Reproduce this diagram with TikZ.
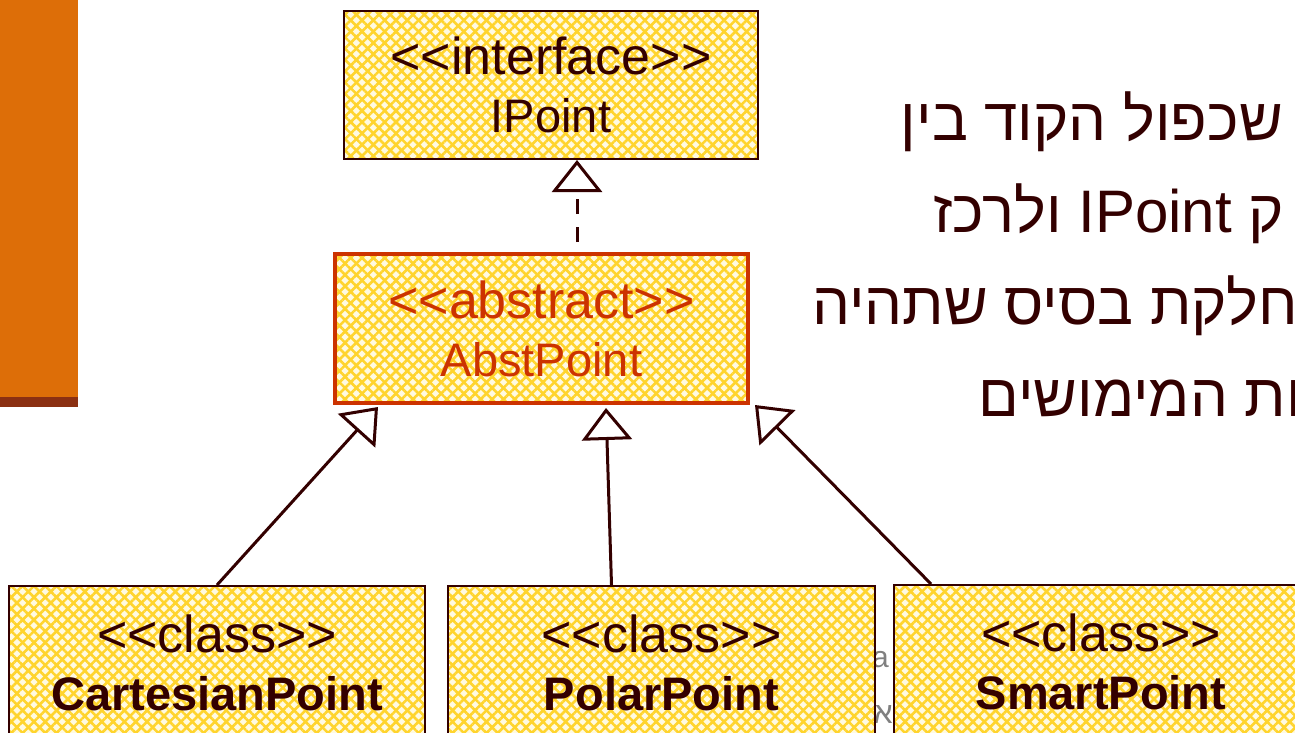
\documentclass[tikz,border=0pt]{standalone}
\usepackage{fontspec}
\setmainfont{Liberation Sans}
\newfontfamily\hebfont[Script=Hebrew]{Liberation Sans}
\TeXXeTstate=1
\usepackage{tikz}
\usetikzlibrary{arrows.meta,patterns.meta}
\definecolor{umlline}{RGB}{51,0,0}
\definecolor{abstred}{RGB}{204,51,0}
\definecolor{barorange}{RGB}{221,110,8}
\definecolor{bardark}{RGB}{139,48,18}
\definecolor{paleyellow}{RGB}{255,250,225}
\definecolor{hatchgold}{RGB}{255,212,45}
\definecolor{footgrey}{RGB}{128,128,128}
\newcommand{\umlname}[1]{{\fontsize{47}{58}\selectfont #1}}
\newcommand{\umlbold}[1]{{\bfseries\fontsize{47}{58}\selectfont #1}}
\newcommand{\stereo}[1]{<{}<#1>{}>}

\begin{document}
\begin{tikzpicture}[x=1pt,y=-1pt,
		hatched/.style={preaction={fill=paleyellow},
			preaction={pattern={Lines[angle=45,distance=8pt,line width=2.6pt]},pattern color=hatchgold},
			preaction={pattern={Lines[angle=-45,distance=8pt,line width=2.6pt]},pattern color=hatchgold}},
		umlbox/.style={rectangle,hatched,draw=umlline,line width=2pt,text=umlline,align=center,inner sep=0pt,font=\fontsize{52}{58}\selectfont},
		abstbox/.style={umlbox,draw=abstred,line width=4pt,text=abstred},
		inheritarrow/.style={draw=umlline,line width=3pt,-{Triangle[open,length=32pt,width=50pt]}},
		realizearrow/.style={inheritarrow,dash pattern=on 15pt off 13pt,dash phase=18pt},
		hebline/.style={anchor=base east,text=umlline,inner sep=0pt,font=\hebfont\fontsize{60}{60}\selectfont},
		footline/.style={anchor=base east,text=footgrey,inner sep=0pt,font=\hebfont\fontsize{30}{34}\selectfont}]
		\useasboundingbox (0,0) rectangle (1295,733);
		\fill[barorange] (0,0) rectangle (78,397);
		\fill[bardark] (0,397) rectangle (78,407);
		
		\node[footline] (foot1) at (889,667) {va};
		\node[footline] (foot2) at (893,723) {\beginR אב\endR};
		
		\node[hebline] (txt1) at (1283,140) {\beginR שכפול הקוד בין\endR};
		\node[hebline] (txt2) at (1284,232) {\beginR ק \beginL IPoint\endL{} ולרכז\endR};
		\node[hebline] (txt3) at (1298,324) {\beginR חלקת בסיס שתהיה\endR};
		\node[hebline] (txt4) at (1302,416) {\beginR ות המימושים\endR};
		
		\node[umlbox,minimum width=414pt,minimum height=148pt] (ipoint) at (551,85) {\stereo{interface}\\\umlname{IPoint}};
		\node[abstbox,minimum width=413pt,minimum height=149pt] (abst) at (541.5,328.5) {\stereo{abstract}\\\umlname{AbstPoint}};
		\node[umlbox,minimum width=416pt,minimum height=154pt] (cart) at (217,663) {\stereo{class}\\\umlbold{CartesianPoint}};
		\node[umlbox,minimum width=427pt,minimum height=154pt] (polar) at (661.5,663) {\stereo{class}\\\umlbold{PolarPoint}};
		\node[umlbox,minimum width=414pt,minimum height=154pt] (smart) at (1101,662) {\stereo{class}\\\umlbold{SmartPoint}};
		
		\draw[realizearrow] ([xshift=35.5pt]abst.north) -- ([xshift=26pt]ipoint.south);
		\draw[inheritarrow] (cart.north) -- ([xshift=45pt,yshift=-2pt]abst.south west);
		\draw[inheritarrow] ([xshift=-50pt]polar.north) -- ([xshift=64.5pt,yshift=-3pt]abst.south);
		\draw[inheritarrow] ([xshift=38pt]smart.north west) -- ([xshift=5pt]abst.south east);
	\end{tikzpicture}
\end{document}
